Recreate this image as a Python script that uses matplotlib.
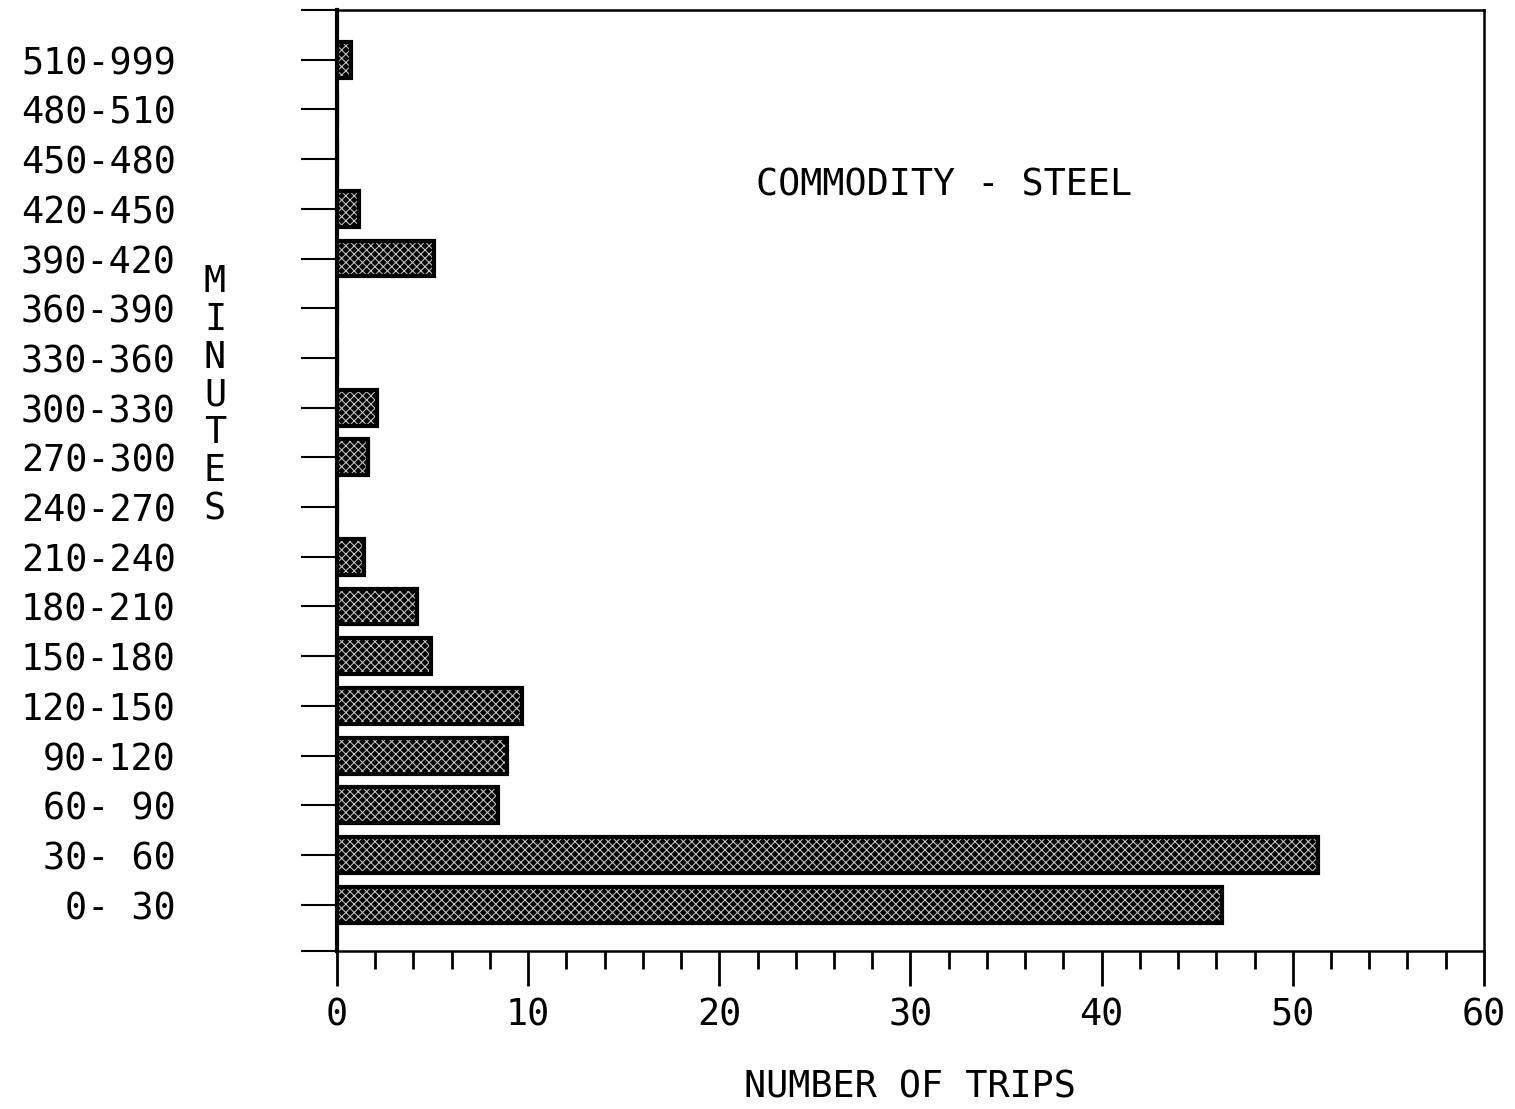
import matplotlib
matplotlib.use("Agg")
import matplotlib.pyplot as plt
import numpy as np

categories = ["0- 30", "30- 60", "60- 90", "90-120", "120-150", "150-180",
              "180-210", "210-240", "240-270", "270-300", "300-330", "330-360",
              "360-390", "390-420", "420-450", "450-480", "480-510", "510-999"]
trips = [46.3, 51.3, 8.4, 8.9, 9.7, 4.9, 4.2, 1.4, 0, 1.6, 2.1, 0, 0, 5.1, 1.15, 0, 0, 0.75]

title = "COMMODITY - STEEL"
xlabel = "NUMBER OF TRIPS"
ylabel = "MINUTES"
xmajor = [0, 10, 20, 30, 40, 50, 60]

FONT = "DejaVu Sans Mono"
FS = 26.5

plt.rcParams["hatch.linewidth"] = 0.75

fig = plt.figure(figsize=(15.15, 11.09), dpi=100)
ax = fig.add_axes([0.2224, 0.1425, 0.9795 - 0.2224, 0.991 - 0.1425])

ypos = np.arange(len(categories))
ax.barh(ypos, trips, height=0.72, color="#000000", edgecolor="#c8c8c8",
        hatch="xxxx", linewidth=0, zorder=2)
ax.barh(ypos, trips, height=0.72, facecolor="none", edgecolor="black",
        linewidth=3, zorder=3)

ax.set_xlim(0, 60)
ax.set_ylim(-0.93, 18.0)

ax.set_xticks(xmajor)
ax.set_xticklabels([str(v) for v in xmajor], fontfamily=FONT, fontsize=FS)
ax.set_xticks(np.arange(0, 61, 2), minor=True)
ax.tick_params(axis="x", which="major", direction="out", length=25, width=2, pad=8)
ax.tick_params(axis="x", which="minor", direction="out", length=13, width=2)

ax.set_yticks(ypos)
ax.set_yticklabels(categories, fontfamily=FONT, fontsize=FS)
ax.set_yticks([-0.93, 18.0], minor=True)
ax.tick_params(axis="y", which="both", direction="out", length=26, width=1.5, pad=90)

for s in ax.spines.values():
    s.set_linewidth(1.8)
ax.spines["left"].set_linewidth(3)

ax.text(0.529, 0.814, title, transform=ax.transAxes, ha="center", va="center",
        fontfamily=FONT, fontsize=FS)
fig.text(910 / 1515, 1 - 1087 / 1109, xlabel, ha="center", va="center",
         fontfamily=FONT, fontsize=FS)
fig.text(215 / 1515, 1 - 395 / 1109, "\n".join(ylabel), ha="center", va="center",
         fontfamily=FONT, fontsize=FS, linespacing=1.03)

fig.savefig("out.png", dpi=100)
